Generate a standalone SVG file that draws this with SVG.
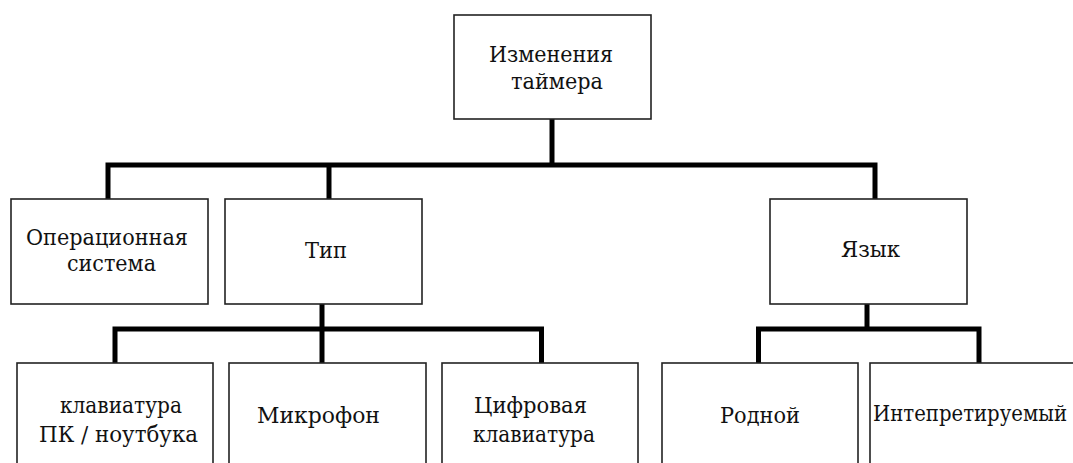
<svg xmlns="http://www.w3.org/2000/svg" width="1073" height="463" viewBox="0 0 1073 463">
<style>
.box{fill:#fff;stroke:#222;stroke-width:1.6}
.ln{fill:none;stroke:#000;stroke-width:5;stroke-linejoin:miter}
.t{font-family:'DejaVu Serif',serif;font-size:23px;fill:#111}
</style>
<rect width="1073" height="463" fill="#fff"/>
<g id="connectors">
<path class="ln" d="M552,119 V165"/>
<path class="ln" d="M108,199 V165 H875 V199"/>
<path class="ln" d="M329,165 V199"/>
<path class="ln" d="M322,304 V329"/>
<path class="ln" d="M115,363 V329 H541.5 V363"/>
<path class="ln" d="M322,329 V363"/>
<path class="ln" d="M867,304 V329"/>
<path class="ln" d="M758.5,363 V329 H979 V363"/>
</g>
<g id="n-timer"><rect class="box" x="454" y="15" width="197" height="104"/><text class="t" x="489" y="62" textLength="124" lengthAdjust="spacingAndGlyphs">Изменения</text><text class="t" x="511" y="89" textLength="92" lengthAdjust="spacingAndGlyphs">таймера</text></g>
<g id="n-os"><rect class="box" x="11" y="199" width="197" height="105"/><text class="t" x="26" y="245" textLength="162" lengthAdjust="spacingAndGlyphs">Операционная</text><text class="t" x="67" y="271" textLength="89" lengthAdjust="spacingAndGlyphs">система</text></g>
<g id="n-type"><rect class="box" x="225" y="199" width="197" height="105"/><text class="t" x="305" y="258" textLength="42" lengthAdjust="spacingAndGlyphs">Тип</text></g>
<g id="n-lang"><rect class="box" x="770" y="199" width="197" height="105"/><text class="t" x="841" y="257" textLength="59" lengthAdjust="spacingAndGlyphs">Язык</text></g>
<g id="n-kbd"><rect class="box" x="17" y="363" width="196" height="110"/><text class="t" x="60" y="413" textLength="122" lengthAdjust="spacingAndGlyphs">клавиатура</text><text class="t" x="39" y="442" textLength="159" lengthAdjust="spacingAndGlyphs">ПК / ноутбука</text></g>
<g id="n-mic"><rect class="box" x="229" y="363" width="197" height="110"/><text class="t" x="257" y="423" textLength="123" lengthAdjust="spacingAndGlyphs">Микрофон</text></g>
<g id="n-num"><rect class="box" x="442" y="363" width="196" height="110"/><text class="t" x="474" y="413" textLength="113" lengthAdjust="spacingAndGlyphs">Цифровая</text><text class="t" x="473" y="442" textLength="122" lengthAdjust="spacingAndGlyphs">клавиатура</text></g>
<g id="n-native"><rect class="box" x="662" y="363" width="196" height="110"/><text class="t" x="720" y="423" textLength="80" lengthAdjust="spacingAndGlyphs">Родной</text></g>
<g id="n-interp"><rect class="box" x="870" y="363" width="220" height="110"/><text class="t" x="873" y="421" textLength="194" lengthAdjust="spacingAndGlyphs">Интепретируемый</text></g>
</svg>
